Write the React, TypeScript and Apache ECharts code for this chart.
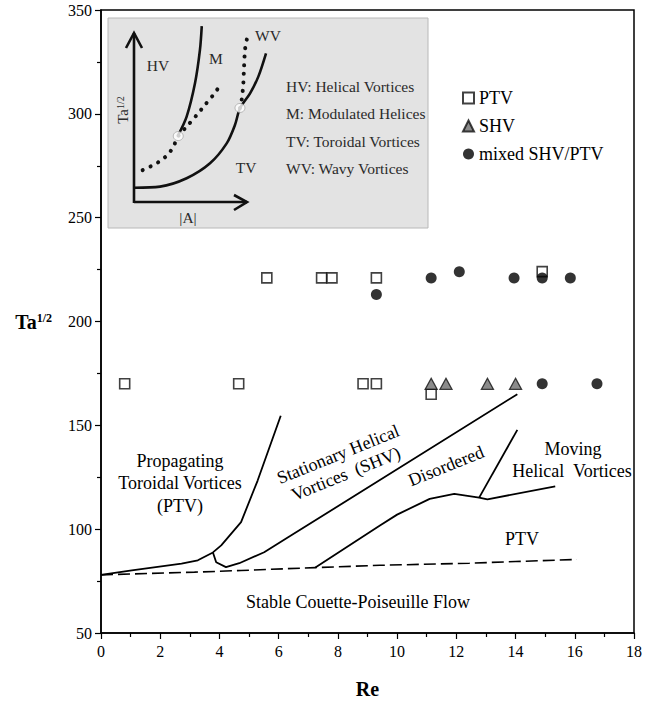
import React, { useEffect, useRef } from "react";
import * as echarts from "echarts";

const FONT = "'Liberation Serif', 'Times New Roman', serif";

// ---- main data (Re, Ta^1/2) ----
const ptvPoints = [
  [5.6, 221], [7.45, 221], [7.8, 221], [9.3, 221], [14.9, 224],
  [0.8, 170], [4.65, 170], [8.85, 170], [9.3, 170], [11.15, 165],
];
const shvPoints = [[11.15, 170], [11.65, 170], [13.05, 170], [14.0, 170]];
const mixedPoints = [
  [9.3, 213], [11.15, 221], [12.1, 224], [13.95, 221], [14.9, 221], [15.85, 221],
  [14.9, 170], [16.75, 170],
];

const ptvBoundary = [
  [0, 78], [1.04, 80.2], [2.72, 83.4], [3.27, 85], [3.78, 88.8], [4.06, 92.2],
  [4.73, 103.4], [5.29, 123.4], [6.07, 154.6],
];
const shvBoundary = [
  [3.78, 88.8], [3.89, 84.1], [4.22, 81.7], [4.67, 83.6], [5.51, 88.9], [6.4, 96.8], [14.06, 165],
];
const disorderedBoundary = [
  [7.24, 81.5], [9.42, 101.8], [10.0, 107], [11.1, 114.6], [11.93, 117], [12.77, 115.2],
  [13.05, 114.4], [15.34, 120.6],
];
const movingBoundary = [[12.77, 115.2], [14.06, 147.8]];
const onsetCurve = [
  [0, 78], [3.16, 79.3], [4.73, 80.1], [7.24, 81.5], [9.42, 82.6], [12.44, 83.6],
  [14.0, 84.4], [16.07, 85.4],
];

// ---- inset schematic (|A|, Ta^1/2 in arbitrary units 0..10) ----
const insetHvBoundary = [[3.16, 3.82], [3.76, 4.85], [4.36, 6.74], [4.71, 8.6], [4.84, 9.94]];
const insetMBoundary = [
  [0.62, 1.85], [1.38, 2.13], [1.98, 2.42], [2.45, 2.75], [2.81, 3.16], [3.16, 3.76],
  [3.76, 4.29], [4.48, 4.94], [5.07, 5.51], [5.66, 6.07], [6.26, 6.72],
];
const insetTvBoundary = [
  [0.02, 0.86], [1.86, 0.92], [3.76, 1.39], [5.43, 2.23], [6.62, 3.35], [7.21, 4.38],
  [7.57, 5.32], [8.29, 6.16], [8.88, 7.1], [9.43, 8.41],
];
const insetWvBoundary = [
  [7.57, 5.34], [7.69, 5.79], [7.81, 6.72], [7.86, 7.66], [7.93, 8.6], [8.05, 9.16], [8.24, 9.53],
];
const insetJunctions = [[3.16, 3.76], [7.57, 5.34]];

const xTickInterval = 2;
const yTickInterval = 50;

export default function App() {
  const ref = useRef<HTMLDivElement>(null);
  useEffect(() => {
    if (!ref.current) return;
    const chart = echarts.init(ref.current, null, { renderer: "svg" });
    const lineStyleSolid = { color: "#000", width: 1.8 };
    const txt = (text: string, x: number, y: number, extra: any = {}) => ({
      type: "text",
      x,
      y,
      z: 5,
      rotation: extra.rotation || 0,
      style: {
        text,
        fill: extra.fill || "#000",
        font: `${extra.size || 18}px ${FONT}`,
        textAlign: extra.align || "center",
        textVerticalAlign: "middle",
        lineHeight: extra.lineHeight,
      },
    });
    const insetColor = "#2a2a2a";
    const insetFont = { size: 15.5, fill: insetColor };
    chart.setOption({
      animation: false,
      grid: [
        { left: 101, right: 7.5, top: 10, bottom: 69, show: true, borderColor: "#000", borderWidth: 1.5 },
        { left: 134, top: 25, width: 140, height: 178 },
      ],
      xAxis: [
        {
          gridIndex: 0, type: "value", min: 0, max: 18, interval: xTickInterval,
          axisLine: { lineStyle: { color: "#000", width: 1.5 } },
          axisTick: { show: true, length: 6, lineStyle: { color: "#000", width: 1.2 } },
          minorTick: { show: true, splitNumber: 2, length: 4, lineStyle: { color: "#000", width: 1.2 } },
          splitLine: { show: false },
          axisLabel: { fontSize: 16, color: "#000", fontFamily: FONT, margin: 10 },
          name: "Re", nameLocation: "middle", nameGap: 46,
          nameTextStyle: { fontSize: 20, fontWeight: "bold", color: "#000", fontFamily: FONT },
        },
        { gridIndex: 1, type: "value", min: 0, max: 10, show: false },
      ],
      yAxis: [
        {
          gridIndex: 0, type: "value", min: 50, max: 350, interval: yTickInterval,
          axisLine: { show: true, lineStyle: { color: "#000", width: 1.5 } },
          axisTick: { show: true, length: 6, lineStyle: { color: "#000", width: 1.2 } },
          minorTick: { show: true, splitNumber: 2, length: 4, lineStyle: { color: "#000", width: 1.2 } },
          splitLine: { show: false },
          axisLabel: { fontSize: 16, color: "#000", fontFamily: FONT, margin: 9 },
          name: "{b|Ta}{s|1/2}", nameLocation: "middle", nameRotate: 0, nameGap: 49,
          nameTextStyle: {
            rich: {
              b: { fontSize: 20, fontWeight: "bold", fontFamily: FONT, color: "#000" },
              s: { fontSize: 12, fontWeight: "bold", fontFamily: FONT, color: "#000", verticalAlign: "top", padding: [0, 0, 8, 0] },
            },
          },
        },
        { gridIndex: 1, type: "value", min: 0, max: 10, show: false },
      ],
      legend: {
        data: ["PTV", "SHV", "mixed SHV/PTV"],
        orient: "vertical", left: 462, top: 89, padding: 0, itemWidth: 11, itemHeight: 11, itemGap: 10,
        textStyle: { fontSize: 18, fontFamily: FONT, color: "#000" },
      },
      graphic: [
        {
          type: "rect", z: 0, shape: { x: 108, y: 18, width: 320, height: 210 },
          style: { fill: "#e3e3e3", stroke: "#b8b8b8", lineWidth: 1 },
        },
        {
          type: "polyline", z: 3, shape: { points: [[134, 203], [134, 33]] },
          style: { stroke: "#111", lineWidth: 2.6, fill: null },
        },
        {
          type: "polyline", z: 3, shape: { points: [[126, 48], [134, 33], [142, 48]] },
          style: { stroke: "#111", lineWidth: 2.6, fill: null },
        },
        {
          type: "polyline", z: 3, shape: { points: [[134, 202], [247, 202]] },
          style: { stroke: "#111", lineWidth: 2.6, fill: null },
        },
        {
          type: "polyline", z: 3, shape: { points: [[234, 195], [247, 202], [234, 210]] },
          style: { stroke: "#111", lineWidth: 2.6, fill: null },
        },
        txt("HV", 158, 65, insetFont),
        txt("M", 216, 58, insetFont),
        txt("WV", 255, 35, { ...insetFont, align: "left" }),
        txt("TV", 246, 167, insetFont),
        txt("HV: Helical Vortices", 286, 86, { ...insetFont, align: "left" }),
        txt("M: Modulated Helices", 286, 113, { ...insetFont, align: "left" }),
        txt("TV: Toroidal Vortices", 286, 141, { ...insetFont, align: "left" }),
        txt("WV: Wavy Vortices", 286, 168, { ...insetFont, align: "left" }),
        {
          type: "text", x: 123, y: 110, z: 5, rotation: Math.PI / 2,
          style: {
            text: "{a|Ta}{s|1/2}", textAlign: "center", textVerticalAlign: "middle",
            rich: {
              a: { fontSize: 15, fontFamily: FONT, fill: insetColor, color: insetColor },
              s: { fontSize: 10, fontFamily: FONT, fill: insetColor, color: insetColor, verticalAlign: "top", padding: [0, 0, 6, 0] },
            },
          },
        },
        txt("|A|", 188, 217, insetFont),
        txt("Propagating", 180, 461),
        txt("Toroidal Vortices", 180, 483),
        txt("(PTV)", 180, 506),
        txt("Stationary Helical\nVortices  (SHV)", 342, 464, { rotation: (22 * Math.PI) / 180, lineHeight: 21 }),
        txt("Disordered", 446, 466, { rotation: (22 * Math.PI) / 180 }),
        txt("Moving", 573, 449),
        txt("Helical  Vortices", 572, 471),
        txt("PTV", 522, 539),
        txt("Stable Couette-Poiseuille Flow", 358, 602),
      ],
      series: [
        { type: "line", data: ptvBoundary, showSymbol: false, lineStyle: lineStyleSolid, z: 3 },
        { type: "line", data: shvBoundary, showSymbol: false, lineStyle: lineStyleSolid, z: 3 },
        { type: "line", data: disorderedBoundary, showSymbol: false, lineStyle: lineStyleSolid, z: 3 },
        { type: "line", data: movingBoundary, showSymbol: false, lineStyle: lineStyleSolid, z: 3 },
        { type: "line", data: onsetCurve, showSymbol: false, lineStyle: { color: "#000", width: 1.6, type: [12, 5] }, z: 3 },
        {
          name: "PTV", type: "scatter", data: ptvPoints, symbol: "rect", symbolSize: 10, z: 4,
          itemStyle: { color: "#fff", borderColor: "#111", borderWidth: 1.6 },
        },
        {
          name: "SHV", type: "scatter", data: shvPoints, symbol: "triangle", symbolSize: [12, 11], z: 5,
          itemStyle: { color: "#6e6e6e", borderColor: "#111", borderWidth: 1.3 },
        },
        {
          name: "mixed SHV/PTV", type: "scatter", data: mixedPoints, symbol: "circle", symbolSize: 11, z: 6,
          itemStyle: { color: "#000" },
        },
        {
          type: "line", xAxisIndex: 1, yAxisIndex: 1, data: insetHvBoundary, showSymbol: false, smooth: 0.3,
          lineStyle: { color: "#111", width: 2.6 }, z: 3,
        },
        {
          type: "line", xAxisIndex: 1, yAxisIndex: 1, data: insetMBoundary, showSymbol: false, smooth: 0.3,
          lineStyle: { color: "#111", width: 4, type: [0.1, 8.5], cap: "round" }, z: 3,
        },
        {
          type: "line", xAxisIndex: 1, yAxisIndex: 1, data: insetTvBoundary, showSymbol: false, smooth: 0.3,
          lineStyle: { color: "#111", width: 2.6 }, z: 3,
        },
        {
          type: "line", xAxisIndex: 1, yAxisIndex: 1, data: insetWvBoundary, showSymbol: false, smooth: 0.3,
          lineStyle: { color: "#111", width: 4, type: [0.1, 8.5], cap: "round" }, z: 3,
        },
        {
          type: "scatter", xAxisIndex: 1, yAxisIndex: 1, data: insetJunctions, symbol: "circle", symbolSize: [10, 9], z: 4,
          itemStyle: { color: "#fff", borderColor: "#999", borderWidth: 0.8 },
        },
      ],
    });
    return () => chart.dispose();
  }, []);
  return <div ref={ref} style={{ position: "absolute", left: 0, top: 0, width: 645, height: 704 }} />;
}
